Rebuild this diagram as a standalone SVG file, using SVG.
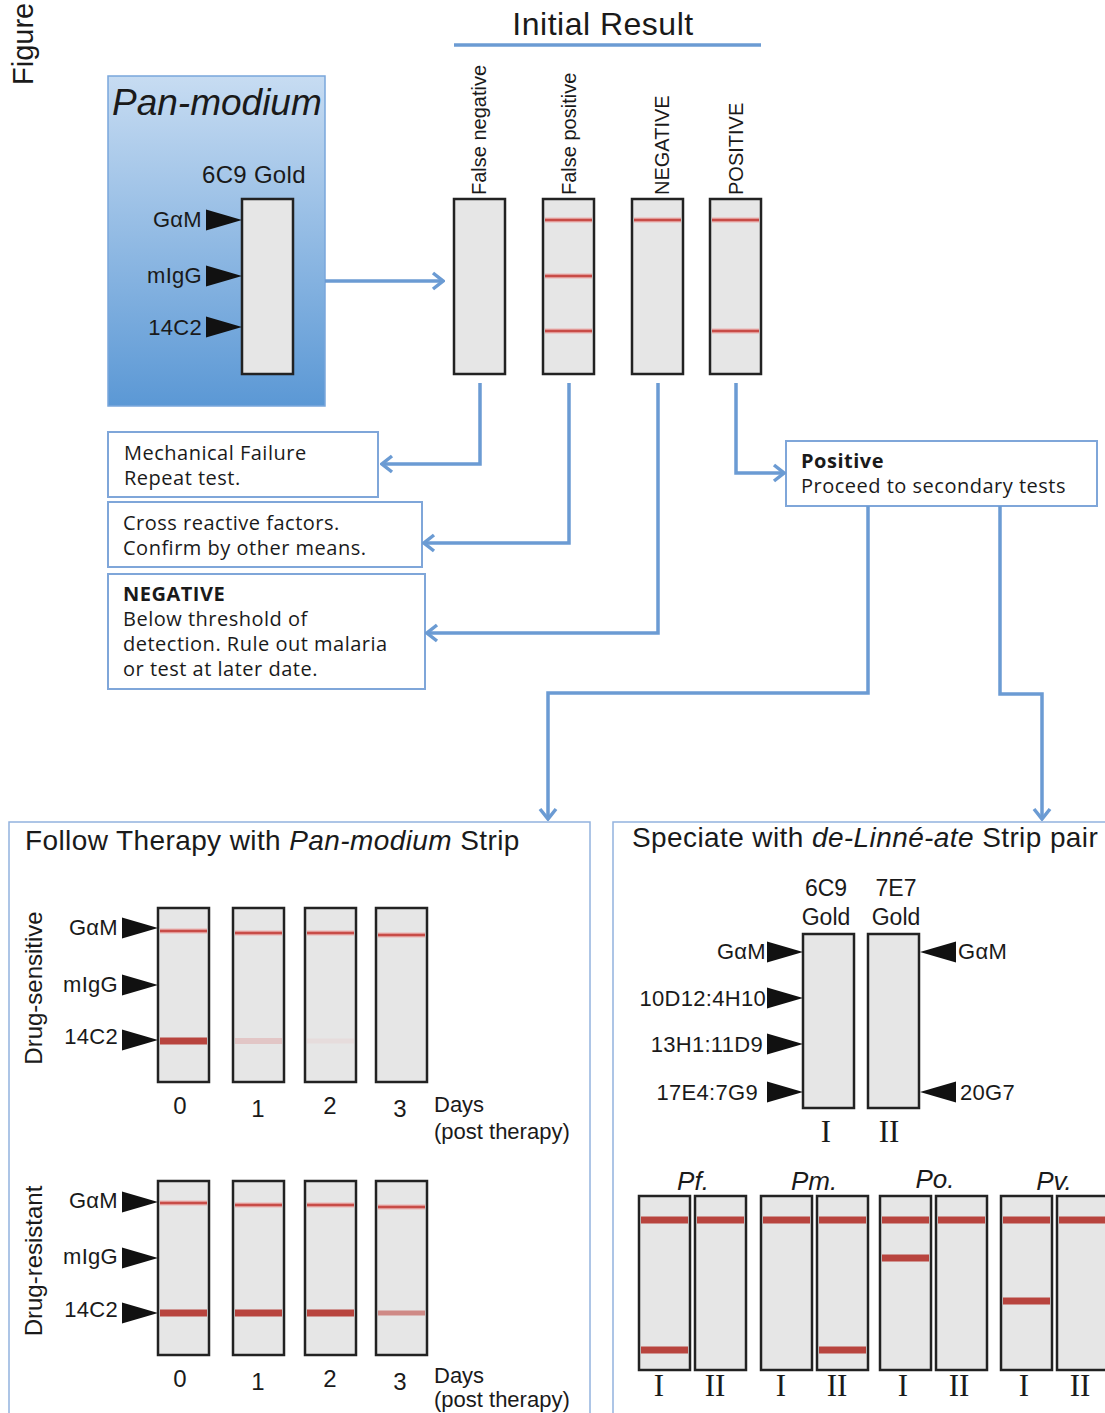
<svg xmlns="http://www.w3.org/2000/svg" xmlns:xlink="http://www.w3.org/1999/xlink" width="1105" height="1413" viewBox="0 0 1105 1413">
<style>
.sans{font-family:"Liberation Sans",Arial,sans-serif;fill:#1a1a1a}
.title{font-size:28px;letter-spacing:0.4px}
.body{font-family:"Open Sans","Liberation Sans",sans-serif;font-size:20px;letter-spacing:0.5px;fill:#1a1a1a}
.bold{font-weight:bold}
.serif{font-family:"Liberation Serif","Times New Roman",serif;font-size:31px;fill:#1a1a1a}
.strip{fill:#e6e6e6;stroke:#222;stroke-width:2.5}
.conn{fill:none;stroke:#6b9bd3;stroke-width:3.5;stroke-linejoin:miter}
.tbox{fill:#fff;stroke:#7fa6d9;stroke-width:2}
.panel{fill:#fff;stroke:#93b3de;stroke-width:1.5}
.halo{stroke:#eab2b0;stroke-width:5}
.thin{stroke:#c84c47;stroke-width:2.5}
.thick{stroke:#b8443e;stroke-width:7}
.tri{fill:#111}
.lbl{font-family:"Liberation Sans",Arial,sans-serif;font-size:22px;letter-spacing:0.3px;fill:#1a1a1a}
</style>
<defs>
<linearGradient id="pg" x1="0" y1="0" x2="0" y2="1">
<stop offset="0" stop-color="#c7dcf2"/>
<stop offset="1" stop-color="#5b98d5"/>
</linearGradient>
<marker id="chev" markerUnits="userSpaceOnUse" viewBox="0 0 14 20" refX="12" refY="10" markerWidth="14" markerHeight="20" orient="auto">
<path d="M2,2 L12,10 L2,18" fill="none" stroke="#6b9bd3" stroke-width="3.5"/>
</marker>
<path id="tr" class="tri" d="M-36,-10.5 L0,0 L-36,10.5 Z"/>
</defs>
<rect width="1105" height="1413" fill="#fff"/>

<text class="sans" font-size="29" fill="#333" transform="translate(33,85) rotate(-90)">Figure</text>

<g id="panmodium">
<rect x="108" y="76" width="217" height="330" fill="url(#pg)" stroke="#7aa7db" stroke-width="1.5"/>
<text class="sans" x="112" y="115" font-size="37" font-style="italic">Pan-modium</text>
<text class="sans" x="202" y="183" font-size="24" letter-spacing="0.3">6C9 Gold</text>
<rect class="strip" x="242" y="199" width="51" height="175"/>
<use xlink:href="#tr" x="242" y="220"/>
<use xlink:href="#tr" x="242" y="276"/>
<use xlink:href="#tr" x="242" y="327"/>
<text class="lbl" x="202" y="227" text-anchor="end">GαM</text>
<text class="lbl" x="202" y="283" text-anchor="end">mIgG</text>
<text class="lbl" x="202" y="335" text-anchor="end">14C2</text>
</g>

<g id="initial-result">
<text class="sans" x="603" y="35" font-size="32" letter-spacing="0.5" text-anchor="middle">Initial Result</text>
<line x1="454" y1="45" x2="761" y2="45" stroke="#6b9bd3" stroke-width="3.5"/>
</g>

<g id="strip-false-negative">
<text class="sans" font-size="20" transform="translate(486,195) rotate(-90)">False negative</text>
<rect class="strip" x="454" y="199" width="51" height="175"/>
</g>
<g id="strip-false-positive">
<text class="sans" font-size="20" transform="translate(576,195) rotate(-90)">False positive</text>
<rect class="strip" x="543" y="199" width="51" height="175"/>
<line class="halo" x1="545" y1="220" x2="592" y2="220"/><line class="thin" x1="545" y1="220" x2="592" y2="220"/>
<line class="halo" x1="545" y1="276" x2="592" y2="276"/><line class="thin" x1="545" y1="276" x2="592" y2="276"/>
<line class="halo" x1="545" y1="331" x2="592" y2="331"/><line class="thin" x1="545" y1="331" x2="592" y2="331"/>
</g>
<g id="strip-negative">
<text class="sans" font-size="20" transform="translate(669,195) rotate(-90)">NEGATIVE</text>
<rect class="strip" x="632" y="199" width="51" height="175"/>
<line class="halo" x1="634" y1="220" x2="681" y2="220"/><line class="thin" x1="634" y1="220" x2="681" y2="220"/>
</g>
<g id="strip-positive">
<text class="sans" font-size="20" transform="translate(743,195) rotate(-90)">POSITIVE</text>
<rect class="strip" x="710" y="199" width="51" height="175"/>
<line class="halo" x1="712" y1="220" x2="759" y2="220"/><line class="thin" x1="712" y1="220" x2="759" y2="220"/>
<line class="halo" x1="712" y1="331" x2="759" y2="331"/><line class="thin" x1="712" y1="331" x2="759" y2="331"/>
</g>

<g id="box-mechanical">
<rect class="tbox" x="108" y="432" width="270" height="65"/>
<text class="body" x="124" y="460">Mechanical Failure</text>
<text class="body" x="124" y="485">Repeat test.</text>
</g>
<g id="box-cross">
<rect class="tbox" x="108" y="502" width="314" height="65"/>
<text class="body" x="123" y="530">Cross reactive factors.</text>
<text class="body" x="123" y="555">Confirm by other means.</text>
</g>
<g id="box-negative">
<rect class="tbox" x="108" y="574" width="317" height="115"/>
<text class="body bold" x="123" y="601">NEGATIVE</text>
<text class="body" x="123" y="626">Below threshold of</text>
<text class="body" x="123" y="651">detection. Rule out malaria</text>
<text class="body" x="123" y="676">or test at later date.</text>
</g>
<g id="box-positive">
<rect class="tbox" x="786" y="441" width="311" height="65"/>
<text class="body bold" x="801" y="468">Positive</text>
<text class="body" x="801" y="493">Proceed to secondary tests</text>
</g>

<g id="connectors">
<path class="conn" d="M325,281 H443" marker-end="url(#chev)"/>
<path class="conn" d="M480,383 V464 H382" marker-end="url(#chev)"/>
<path class="conn" d="M569,383 V543 H424" marker-end="url(#chev)"/>
<path class="conn" d="M658,383 V633 H427" marker-end="url(#chev)"/>
<path class="conn" d="M736,383 V473 H784" marker-end="url(#chev)"/>
<path class="conn" d="M868,506 V693 H548 V819" marker-end="url(#chev)"/>
<path class="conn" d="M1000,506 V694 H1042 V819" marker-end="url(#chev)"/>
</g>

<g id="panel-therapy">
<rect class="panel" x="9" y="822" width="581" height="600"/>
<text class="sans title" x="25" y="850">Follow Therapy with <tspan font-style="italic">Pan-modium</tspan> Strip</text>

<text class="sans" font-size="24" text-anchor="middle" transform="translate(42,988) rotate(-90)">Drug-sensitive</text>
<use xlink:href="#tr" x="158" y="928"/>
<use xlink:href="#tr" x="158" y="985"/>
<use xlink:href="#tr" x="158" y="1040"/>
<text class="lbl" x="118" y="935" text-anchor="end">GαM</text>
<text class="lbl" x="118" y="992" text-anchor="end">mIgG</text>
<text class="lbl" x="118" y="1044" text-anchor="end">14C2</text>
<rect class="strip" x="158" y="908" width="51" height="174"/>
<rect class="strip" x="233" y="908" width="51" height="174"/>
<rect class="strip" x="305" y="908" width="51" height="174"/>
<rect class="strip" x="376" y="908" width="51" height="174"/>
<line class="halo" x1="160" y1="931" x2="207" y2="931"/><line class="thin" x1="160" y1="931" x2="207" y2="931"/>
<line class="halo" x1="235" y1="933" x2="282" y2="933"/><line class="thin" x1="235" y1="933" x2="282" y2="933"/>
<line class="halo" x1="307" y1="933" x2="354" y2="933"/><line class="thin" x1="307" y1="933" x2="354" y2="933"/>
<line class="halo" x1="378" y1="935" x2="425" y2="935"/><line class="thin" x1="378" y1="935" x2="425" y2="935"/>
<line class="thick" x1="160" y1="1041" x2="207" y2="1041" stroke-width="5"/>
<line x1="235" y1="1041" x2="282" y2="1041" stroke="#e2c6c6" stroke-width="6"/>
<line x1="307" y1="1041" x2="354" y2="1041" stroke="#e6dcdc" stroke-width="5"/>
<text class="sans" font-size="24" x="180" y="1114" text-anchor="middle">0</text>
<text class="sans" font-size="24" x="258" y="1117" text-anchor="middle">1</text>
<text class="sans" font-size="24" x="330" y="1114" text-anchor="middle">2</text>
<text class="sans" font-size="24" x="400" y="1117" text-anchor="middle">3</text>
<text class="sans" font-size="22" x="434" y="1112">Days</text>
<text class="sans" font-size="22" x="434" y="1139">(post therapy)</text>

<text class="sans" font-size="24" text-anchor="middle" transform="translate(42,1261) rotate(-90)">Drug-resistant</text>
<use xlink:href="#tr" x="158" y="1202"/>
<use xlink:href="#tr" x="158" y="1258"/>
<use xlink:href="#tr" x="158" y="1313"/>
<text class="lbl" x="118" y="1208" text-anchor="end">GαM</text>
<text class="lbl" x="118" y="1264" text-anchor="end">mIgG</text>
<text class="lbl" x="118" y="1317" text-anchor="end">14C2</text>
<rect class="strip" x="158" y="1181" width="51" height="174"/>
<rect class="strip" x="233" y="1181" width="51" height="174"/>
<rect class="strip" x="305" y="1181" width="51" height="174"/>
<rect class="strip" x="376" y="1181" width="51" height="174"/>
<line class="halo" x1="160" y1="1203" x2="207" y2="1203"/><line class="thin" x1="160" y1="1203" x2="207" y2="1203"/>
<line class="halo" x1="235" y1="1205" x2="282" y2="1205"/><line class="thin" x1="235" y1="1205" x2="282" y2="1205"/>
<line class="halo" x1="307" y1="1205" x2="354" y2="1205"/><line class="thin" x1="307" y1="1205" x2="354" y2="1205"/>
<line class="halo" x1="378" y1="1207" x2="425" y2="1207"/><line class="thin" x1="378" y1="1207" x2="425" y2="1207"/>
<line class="thick" x1="160" y1="1313" x2="207" y2="1313" stroke-width="5"/>
<line class="thick" x1="235" y1="1313" x2="282" y2="1313" stroke-width="5"/>
<line class="thick" x1="307" y1="1313" x2="354" y2="1313" stroke-width="5"/>
<line x1="378" y1="1313" x2="425" y2="1313" stroke="#cf8a86" stroke-width="5"/>
<text class="sans" font-size="24" x="180" y="1387" text-anchor="middle">0</text>
<text class="sans" font-size="24" x="258" y="1390" text-anchor="middle">1</text>
<text class="sans" font-size="24" x="330" y="1387" text-anchor="middle">2</text>
<text class="sans" font-size="24" x="400" y="1390" text-anchor="middle">3</text>
<text class="sans" font-size="22" x="434" y="1383">Days</text>
<text class="sans" font-size="22" x="434" y="1407">(post therapy)</text>
</g>

<g id="panel-speciate">
<rect class="panel" x="613" y="822" width="520" height="600"/>
<text class="sans title" x="632" y="847">Speciate with <tspan font-style="italic">de-Linné-ate</tspan> Strip pair</text>
<text class="sans" font-size="23" x="826" y="896" text-anchor="middle">6C9</text>
<text class="sans" font-size="23" x="826" y="925" text-anchor="middle">Gold</text>
<text class="sans" font-size="23" x="896" y="896" text-anchor="middle">7E7</text>
<text class="sans" font-size="23" x="896" y="925" text-anchor="middle">Gold</text>
<rect class="strip" x="803" y="934" width="51" height="174"/>
<rect class="strip" x="868" y="934" width="51" height="174"/>
<use xlink:href="#tr" x="803" y="952"/>
<use xlink:href="#tr" x="803" y="998"/>
<use xlink:href="#tr" x="803" y="1044"/>
<use xlink:href="#tr" x="803" y="1092"/>
<use xlink:href="#tr" transform="translate(920,952) scale(-1,1)"/>
<use xlink:href="#tr" transform="translate(920,1092) scale(-1,1)"/>
<text class="lbl" x="766" y="959" text-anchor="end">GαM</text>
<text class="lbl" x="766" y="1006" text-anchor="end">10D12:4H10</text>
<text class="lbl" x="763" y="1052" text-anchor="end">13H1:11D9</text>
<text class="lbl" x="758" y="1100" text-anchor="end">17E4:7G9</text>
<text class="lbl" x="958" y="959">GαM</text>
<text class="lbl" x="960" y="1100">20G7</text>
<text class="serif" x="826" y="1142" text-anchor="middle">I</text>
<text class="serif" x="889" y="1142" text-anchor="middle">II</text>

<text class="sans" font-size="26" font-style="italic" x="693" y="1190" text-anchor="middle">Pf.</text>
<text class="sans" font-size="26" font-style="italic" x="814" y="1190" text-anchor="middle">Pm.</text>
<text class="sans" font-size="26" font-style="italic" x="935" y="1188" text-anchor="middle">Po.</text>
<text class="sans" font-size="26" font-style="italic" x="1054" y="1190" text-anchor="middle">Pv.</text>
<rect class="strip" x="639" y="1196" width="51" height="174"/>
<rect class="strip" x="695" y="1196" width="51" height="174"/>
<rect class="strip" x="761" y="1196" width="51" height="174"/>
<rect class="strip" x="817" y="1196" width="51" height="174"/>
<rect class="strip" x="880" y="1196" width="51" height="174"/>
<rect class="strip" x="936" y="1196" width="51" height="174"/>
<rect class="strip" x="1001" y="1196" width="51" height="174"/>
<rect class="strip" x="1057" y="1196" width="51" height="174"/>
<line class="thick" x1="641" y1="1220" x2="688" y2="1220"/>
<line class="thick" x1="697" y1="1220" x2="744" y2="1220"/>
<line class="thick" x1="763" y1="1220" x2="810" y2="1220"/>
<line class="thick" x1="819" y1="1220" x2="866" y2="1220"/>
<line class="thick" x1="882" y1="1220" x2="929" y2="1220"/>
<line class="thick" x1="938" y1="1220" x2="985" y2="1220"/>
<line class="thick" x1="1003" y1="1220" x2="1050" y2="1220"/>
<line class="thick" x1="1059" y1="1220" x2="1106" y2="1220"/>
<line class="thick" x1="641" y1="1350" x2="688" y2="1350"/>
<line class="thick" x1="819" y1="1350" x2="866" y2="1350"/>
<line class="thick" x1="882" y1="1258" x2="929" y2="1258"/>
<line class="thick" x1="1003" y1="1301" x2="1050" y2="1301"/>
<text class="serif" x="659" y="1396" text-anchor="middle">I</text>
<text class="serif" x="715" y="1396" text-anchor="middle">II</text>
<text class="serif" x="781" y="1396" text-anchor="middle">I</text>
<text class="serif" x="837" y="1396" text-anchor="middle">II</text>
<text class="serif" x="903" y="1396" text-anchor="middle">I</text>
<text class="serif" x="959" y="1396" text-anchor="middle">II</text>
<text class="serif" x="1024" y="1396" text-anchor="middle">I</text>
<text class="serif" x="1080" y="1396" text-anchor="middle">II</text>
</g>
</svg>
